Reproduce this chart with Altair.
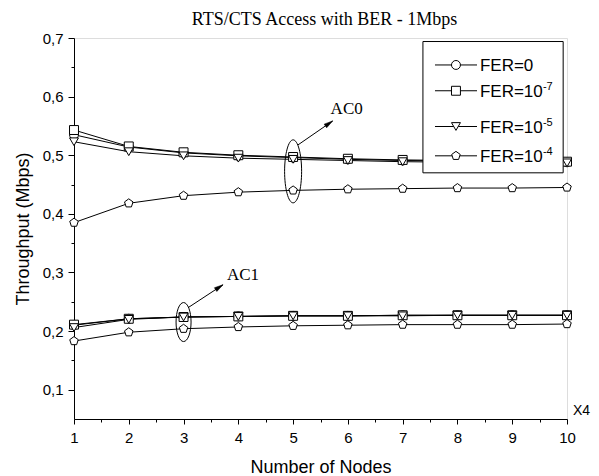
import altair as alt
import pandas as pd

# ---------------- data ----------------
nodes = [1, 2, 3, 4, 5, 6, 7, 8, 9, 10]
fer_keys = ["FER=0", "FER=10^-7", "FER=10^-5", "FER=10^-4"]
legend_main = ["FER=0", "FER=10", "FER=10", "FER=10"]
legend_sup = ["", "-7", "-5", "-4"]

# AC0
ac0_fer0 = [0.535, 0.514, 0.504, 0.499, 0.496, 0.493, 0.491, 0.490, 0.489, 0.488]
ac0_fer7 = [0.543, 0.515, 0.505, 0.500, 0.497, 0.494, 0.492, 0.491, 0.490, 0.489]
ac0_fer5 = [0.523, 0.506, 0.499, 0.495, 0.493, 0.491, 0.489, 0.488, 0.487, 0.487]
ac0_fer4 = [0.385, 0.418, 0.431, 0.437, 0.440, 0.442, 0.443, 0.444, 0.444, 0.445]
# AC1
ac1_fer0 = [0.210, 0.221, 0.224, 0.225, 0.226, 0.226, 0.227, 0.227, 0.227, 0.227]
ac1_fer7 = [0.211, 0.221, 0.224, 0.225, 0.226, 0.226, 0.227, 0.227, 0.227, 0.227]
ac1_fer5 = [0.206, 0.220, 0.224, 0.225, 0.226, 0.226, 0.226, 0.227, 0.227, 0.227]
ac1_fer4 = [0.183, 0.198, 0.204, 0.207, 0.209, 0.210, 0.211, 0.211, 0.211, 0.212]

ann_labels = ["AC0", "AC1"]

series = {
    ("AC0", fer_keys[0]): ac0_fer0,
    ("AC0", fer_keys[1]): ac0_fer7,
    ("AC0", fer_keys[2]): ac0_fer5,
    ("AC0", fer_keys[3]): ac0_fer4,
    ("AC1", fer_keys[0]): ac1_fer0,
    ("AC1", fer_keys[1]): ac1_fer7,
    ("AC1", fer_keys[2]): ac1_fer5,
    ("AC1", fer_keys[3]): ac1_fer4,
}
rows = []
for (ac, fer), vals in series.items():
    for n, v in zip(nodes, vals):
        rows.append({"ac": ac, "fer": fer, "key": ac + fer, "nodes": n, "thr": v})
df = pd.DataFrame(rows)

# ---------------- styling ----------------
SANS = "Liberation Sans"
SERIF = "Liberation Serif"
PENTAGON = "M0,-1L0.951,-0.309L0.588,0.809L-0.588,0.809L-0.951,-0.309Z"
ARROW_HEAD = "M0,0L0.55,2.2L-0.55,2.2Z"

xscale = alt.Scale(domain=[1, 10], nice=False, zero=False)
yscale = alt.Scale(domain=[0.05, 0.7], nice=False, zero=False)
shape_scale = alt.Scale(domain=fer_keys, range=["circle", "square", "triangle-down", PENTAGON])

x_axis = alt.Axis(
    title="Number of Nodes",
    values=[i / 2 for i in range(2, 21)],
    labelExpr="datum.value % 1 == 0 ? format(datum.value, 'd') : ''",
    tickSize={"condition": {"test": "datum.value % 1 != 0", "value": 3}, "value": 5},
    labelPadding=6,
    titlePadding=13,
    grid=False,
    labelFont=SANS, labelFontSize=15, titleFont=SANS, titleFontSize=18,
    titleFontWeight="normal", labelColor="black", titleColor="black",
    domainColor="black", tickColor="black", labelFlush=False, labelOverlap=False,
)
y_axis = alt.Axis(
    title="Throughput (Mbps)",
    values=[round(0.1 + 0.05 * i, 2) for i in range(13)],
    labelExpr="round(datum.value * 20) % 2 == 0 ? replace(format(datum.value, '.1f'), '.', ',') : ''",
    tickSize={"condition": {"test": "round(datum.value * 20) % 2 != 0", "value": 3}, "value": 6},
    labelPadding=5,
    titlePadding=10,
    grid=False,
    labelFont=SANS, labelFontSize=15, titleFont=SANS, titleFontSize=18,
    titleFontWeight="normal", labelColor="black", titleColor="black",
    domainColor="black", tickColor="black", labelFlush=False, labelOverlap=False,
)


def X(field):
    return alt.X(field, type="quantitative", scale=xscale, axis=x_axis)


def Y(field):
    return alt.Y(field, type="quantitative", scale=yscale, axis=y_axis)


base = alt.Chart(df)
lines = base.mark_line(color="black", strokeWidth=1).encode(
    x=X("nodes"), y=Y("thr"), detail="key:N"
)
points = base.mark_point(filled=True, fill="white", stroke="black", strokeWidth=1, size=80, opacity=1).encode(
    x=X("nodes"), y=Y("thr"),
    shape=alt.Shape("fer:N", scale=shape_scale, legend=None),
)

# ---------------- annotations (data coordinates) ----------------
ell0 = alt.Chart(pd.DataFrame({"x": [5.0], "y": [0.4725]})).mark_point(
    shape="M0,-1A0.27,1 0 1,1 0,1A0.27,1 0 1,1 0,-1Z", size=3969, filled=False,
    stroke="black", strokeWidth=1, opacity=1,
).encode(x=X("x"), y=Y("y"))
ell1 = alt.Chart(pd.DataFrame({"x": [3.0], "y": [0.2154]})).mark_point(
    shape="M0,-1A0.385,1 0 1,1 0,1A0.385,1 0 1,1 0,-1Z", size=1521, filled=False,
    stroke="black", strokeWidth=1, opacity=1,
).encode(x=X("x"), y=Y("y"))

arrows = pd.DataFrame({
    "x1": [5.089, 3.081], "y1": [0.5176, 0.2398],
    "x2": [5.722, 3.72], "y2": [0.5585, 0.279],
    "ang": [55.3, 56.7],
    "tx": [5.978, 4.085], "ty": [0.579, 0.296],
    "label": ann_labels,
})
arrow_lines = alt.Chart(arrows).mark_rule(color="black", strokeWidth=1).encode(
    x=X("x1"), y=Y("y1"), x2="x2:Q", y2="y2:Q"
)
arrow_heads = alt.Chart(arrows).mark_point(
    shape=ARROW_HEAD, size=64, filled=True, fill="black", stroke="black", strokeWidth=0.5, opacity=1
).encode(x=X("x2"), y=Y("y2"), angle=alt.Angle("ang:Q", scale=None))
ann_text = alt.Chart(arrows).mark_text(font=SERIF, fontSize=17, color="black").encode(
    x=X("tx"), y=Y("ty"), text="label:N"
)

x4 = alt.Chart(pd.DataFrame({"t": ["X4"]})).mark_text(
    font=SANS, fontSize=14, color="black", align="left", baseline="middle", dx=6, dy=-8
).encode(x=alt.X(datum=10, scale=xscale, axis=x_axis), y=alt.Y(datum=0.05, scale=yscale, axis=y_axis), text="t:N")

# ---------------- legend (drawn in data coordinates) ----------------
legend_row_y = [0.654, 0.610, 0.549, 0.499]
leg = pd.DataFrame({"fer": fer_keys, "main": legend_main, "sup": legend_sup, "ly": legend_row_y})
box = alt.Chart(pd.DataFrame({"a": [7.37], "b": [9.93], "c": [0.694], "d": [0.470]})).mark_rect(
    fill="white", stroke="black", strokeWidth=1
).encode(x=X("a"), x2="b:Q", y=Y("c"), y2="d:Q")
leg_lines = alt.Chart(leg).mark_rule(color="black", strokeWidth=1).encode(
    x=alt.X(datum=7.59, scale=xscale, axis=x_axis), x2=alt.X2(datum=8.357), y=Y("ly")
)
leg_pts = alt.Chart(leg).mark_point(filled=True, fill="white", stroke="black", strokeWidth=1, size=80, opacity=1).encode(
    x=alt.X(datum=7.973, scale=xscale, axis=x_axis), y=Y("ly"),
    shape=alt.Shape("fer:N", scale=shape_scale, legend=None),
)
leg_text = alt.Chart(leg).mark_text(font=SANS, fontSize=17, color="black", align="left", baseline="middle", dy=1).encode(
    x=alt.X(datum=8.41, scale=xscale, axis=x_axis), y=Y("ly"), text="main:N"
)
leg_sup = alt.Chart(leg).mark_text(font=SANS, fontSize=11, color="black", align="left", baseline="middle", dx=63, dy=-4).encode(
    x=alt.X(datum=8.41, scale=xscale, axis=x_axis), y=Y("ly"), text="sup:N"
)

chart = alt.layer(
    lines, points, ell0, ell1, arrow_lines, arrow_heads, ann_text, x4,
    box, leg_lines, leg_pts, leg_text, leg_sup,
).properties(
    width=493,
    height=381,
    autosize=alt.AutoSizeParams(type="none"),
    padding={"left": 66, "top": 30, "right": 24, "bottom": 58},
    title=alt.Title(
        "RTS/CTS Access with BER - 1Mbps", font=SERIF, fontSize=18, fontWeight="normal",
        color="black", offset=2, anchor="middle", dx=4,
    ),
).configure_view(stroke="black", strokeWidth=1).configure(background="white")

chart.save("out.html", embed_options={"renderer": "svg", "actions": False})
